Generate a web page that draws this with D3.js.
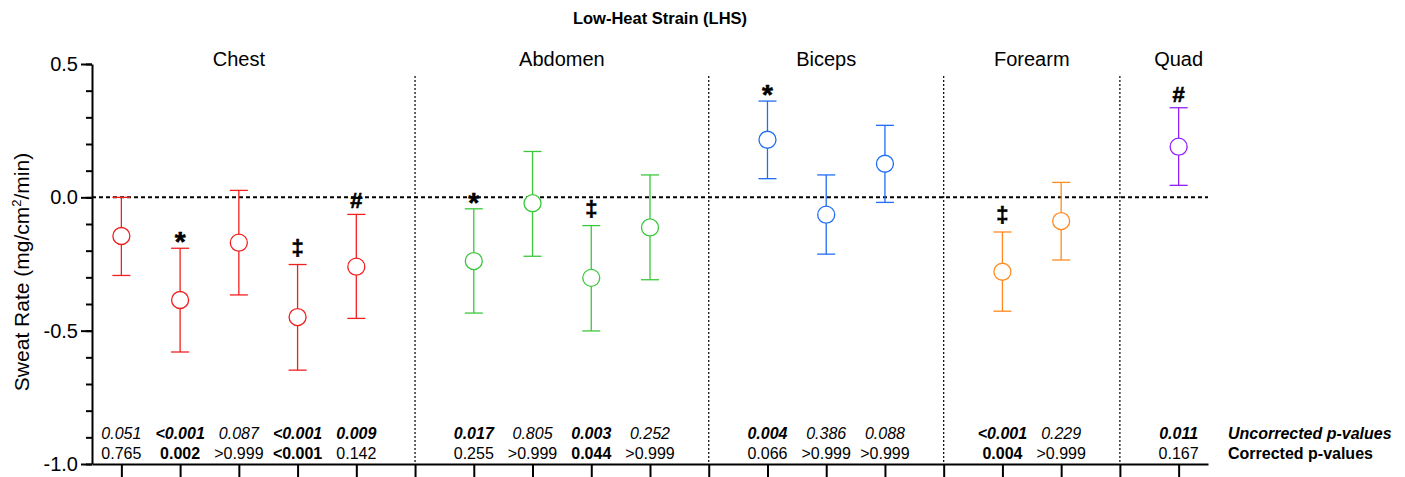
<!DOCTYPE html>
<html>
<head>
<meta charset="utf-8">
<script src="https://cdn.jsdelivr.net/npm/d3@7"></script>
<style>
  body { margin: 0; background: #fff; }
  svg { font-family: 'Liberation Sans', Arial, sans-serif; }
  .p-row text { font-size: 16px; }
</style>
</head>
<body>
<div id="chart"></div>
<script>
// Data
const regions = ['Chest', 'Abdomen', 'Biceps', 'Forearm', 'Quad'];
const regionColours = ['#f21f1f', '#3cc83c', '#1f6ef5', '#ff8a1f', '#8f1fff'];
const pointRegion = [0, 0, 0, 0, 0, 1, 1, 1, 1, 2, 2, 2, 3, 3, 4];
const means  = [-0.145, -0.385, -0.170, -0.449, -0.260, -0.239, -0.022, -0.302, -0.113, 0.216, -0.065, 0.126, -0.279, -0.089, 0.190];
const lowers = [-0.293, -0.580, -0.366, -0.648, -0.454, -0.434, -0.221, -0.501, -0.309, 0.070, -0.213, -0.019, -0.427, -0.235, 0.045];
const uppers = [0.000, -0.191, 0.026, -0.252, -0.064, -0.043, 0.172, -0.106, 0.084, 0.361, 0.084, 0.270, -0.130, 0.056, 0.336];
const markers = ['', '*', '', '‡', '#', '*', '', '‡', '', '*', '', '', '‡', '', '#'];
const pUncorrected = ['0.051', '<0.001', '0.087', '<0.001', '0.009', '0.017', '0.805', '0.003', '0.252', '0.004', '0.386', '0.088', '<0.001', '0.229', '0.011'];
const pCorrected = ['0.765', '0.002', '>0.999', '<0.001', '0.142', '0.255', '>0.999', '0.044', '>0.999', '0.066', '>0.999', '>0.999', '0.004', '>0.999', '0.167'];
const yMajorTicks = [-1.0, -0.5, 0.0, 0.5];

const isSignificant = p => p.startsWith('<') || (!p.startsWith('>') && +p < 0.05);

const width = 1405, height = 477;
const margin = {top: 64, left: 92, right: 197, bottom: 13};
const plotBottom = height - margin.bottom;

const svg = d3.select('#chart').append('svg')
    .attr('width', width)
    .attr('height', height);

// Build slots: every point gets one, a separator slot sits between regions
const slots = [];
const points = means.map((m, i) => ({
    region: pointRegion[i], mean: m, lower: lowers[i], upper: uppers[i],
    marker: markers[i], pu: pUncorrected[i], pc: pCorrected[i]
}));
regions.forEach((r, ri) => {
    points.filter(p => p.region === ri).forEach(p => { p.slot = slots.length; slots.push({type: 'point', region: ri}); });
    if (ri < regions.length - 1) slots.push({type: 'sep', region: ri});
});

const xScale = d3.scalePoint()
    .domain(d3.range(slots.length))
    .range([margin.left, width - margin.right])
    .padding(0.5);

const yScale = d3.scaleLinear()
    .domain([-1, 0.5])
    .range([plotBottom, margin.top]);

// Title
svg.append('text')
    .attr('x', 660).attr('y', 24)
    .attr('text-anchor', 'middle')
    .attr('font-size', 16.5).attr('font-weight', 'bold')
    .text('Low-Heat Strain (LHS)');

// Y axis: minor ticks then major ticks
const yMinor = d3.axisLeft(yScale)
    .tickValues(d3.range(-10, 6).map(d => d / 10))
    .tickSize(6).tickFormat('');
svg.append('g').attr('transform', `translate(${margin.left},0)`).call(yMinor)
    .call(g => g.select('.domain').remove())
    .call(g => g.selectAll('line').attr('stroke-width', 2));

const yAxis = d3.axisLeft(yScale)
    .tickValues(yMajorTicks)
    .tickSize(11).tickSizeOuter(0)
    .tickPadding(3)
    .tickFormat(d => d3.format('.1f')(d).replace('−', '-'));
svg.append('g').attr('transform', `translate(${margin.left},0)`).call(yAxis)
    .call(g => g.select('.domain').attr('stroke-width', 2))
    .call(g => g.selectAll('line').attr('stroke-width', 2))
    .call(g => g.selectAll('text').attr('font-size', 20).attr('fill', '#000').attr('font-family', null));

// Y label
const yLabel = svg.append('text')
    .attr('transform', `translate(29,${(margin.top + plotBottom) / 2 + 8}) rotate(-90)`)
    .attr('text-anchor', 'middle')
    .attr('font-size', 21);
yLabel.append('tspan').text('Sweat Rate (mg/cm');
yLabel.append('tspan').attr('font-size', 13).attr('dy', -8).text('2');
yLabel.append('tspan').attr('dy', 8).text('/min)');

// X axis (unlabelled ticks at every slot)
const xAxis = d3.axisBottom(xScale).tickSize(14).tickSizeOuter(0).tickFormat('');
svg.append('g').attr('transform', `translate(0,${plotBottom})`).call(xAxis)
    .call(g => g.select('.domain').attr('stroke-width', 2))
    .call(g => g.selectAll('line').attr('stroke-width', 2));

// Region separators
svg.append('g').selectAll('line')
    .data(slots.map((s, i) => ({...s, i})).filter(s => s.type === 'sep'))
    .join('line')
    .attr('x1', d => xScale(d.i)).attr('x2', d => xScale(d.i))
    .attr('y1', 76).attr('y2', plotBottom)
    .attr('stroke', '#000').attr('stroke-width', 1.2)
    .attr('stroke-dasharray', '2,2');

// Zero line
svg.append('line')
    .attr('x1', margin.left).attr('x2', width - margin.right)
    .attr('y1', yScale(0)).attr('y2', yScale(0))
    .attr('stroke', '#000').attr('stroke-width', 2)
    .attr('stroke-dasharray', '4,3');

// Region labels centred over their points
svg.append('g').selectAll('text')
    .data(regions)
    .join('text')
    .attr('x', (r, ri) => d3.mean(points.filter(p => p.region === ri), p => xScale(p.slot)))
    .attr('y', 66)
    .attr('text-anchor', 'middle')
    .attr('font-size', 20)
    .text(r => r);

// Error bars and means
const capHalf = 9;
const pts = svg.append('g').selectAll('g')
    .data(points)
    .join('g')
    .attr('stroke', d => regionColours[d.region])
    .attr('stroke-width', 1.3)
    .attr('fill', 'none');

pts.append('line')
    .attr('x1', d => xScale(d.slot)).attr('x2', d => xScale(d.slot))
    .attr('y1', d => yScale(d.lower)).attr('y2', d => yScale(d.upper));
pts.append('line')
    .attr('x1', d => xScale(d.slot) - capHalf).attr('x2', d => xScale(d.slot) + capHalf)
    .attr('y1', d => yScale(d.upper)).attr('y2', d => yScale(d.upper));
pts.append('line')
    .attr('x1', d => xScale(d.slot) - capHalf).attr('x2', d => xScale(d.slot) + capHalf)
    .attr('y1', d => yScale(d.lower)).attr('y2', d => yScale(d.lower));
pts.append('circle')
    .attr('cx', d => xScale(d.slot)).attr('cy', d => yScale(d.mean))
    .attr('r', 8.5)
    .attr('fill', '#fff');

// Significance markers (asterisk glyph is small, so it gets a bigger size)
const markerStyle = {'*': {size: 28, dy: 3}, '‡': {size: 22, dy: -10}, '#': {size: 22, dy: -6}};
svg.append('g').selectAll('text')
    .data(points.filter(p => p.marker))
    .join('text')
    .attr('x', d => xScale(d.slot))
    .attr('y', d => yScale(d.upper) + markerStyle[d.marker].dy)
    .attr('text-anchor', 'middle')
    .attr('font-size', d => markerStyle[d.marker].size)
    .attr('font-weight', 'bold')
    .attr('stroke', '#000').attr('stroke-width', 0.6)
    .text(d => d.marker);

// p-value rows
const pRows = svg.append('g').attr('class', 'p-row');
pRows.selectAll('text.unc')
    .data(points)
    .join('text').attr('class', 'unc')
    .attr('x', d => xScale(d.slot)).attr('y', 439)
    .attr('text-anchor', 'middle')
    .attr('font-style', 'italic')
    .attr('font-weight', d => isSignificant(d.pu) ? 'bold' : 'normal')
    .text(d => d.pu);
pRows.selectAll('text.cor')
    .data(points)
    .join('text').attr('class', 'cor')
    .attr('x', d => xScale(d.slot)).attr('y', 459)
    .attr('text-anchor', 'middle')
    .attr('font-weight', d => isSignificant(d.pc) ? 'bold' : 'normal')
    .text(d => d.pc);

pRows.append('text')
    .attr('x', 1228).attr('y', 439)
    .attr('font-weight', 'bold').attr('font-style', 'italic')
    .text('Uncorrected p-values');
pRows.append('text')
    .attr('x', 1228).attr('y', 459)
    .attr('font-weight', 'bold')
    .text('Corrected p-values');
</script>
</body>
</html>
